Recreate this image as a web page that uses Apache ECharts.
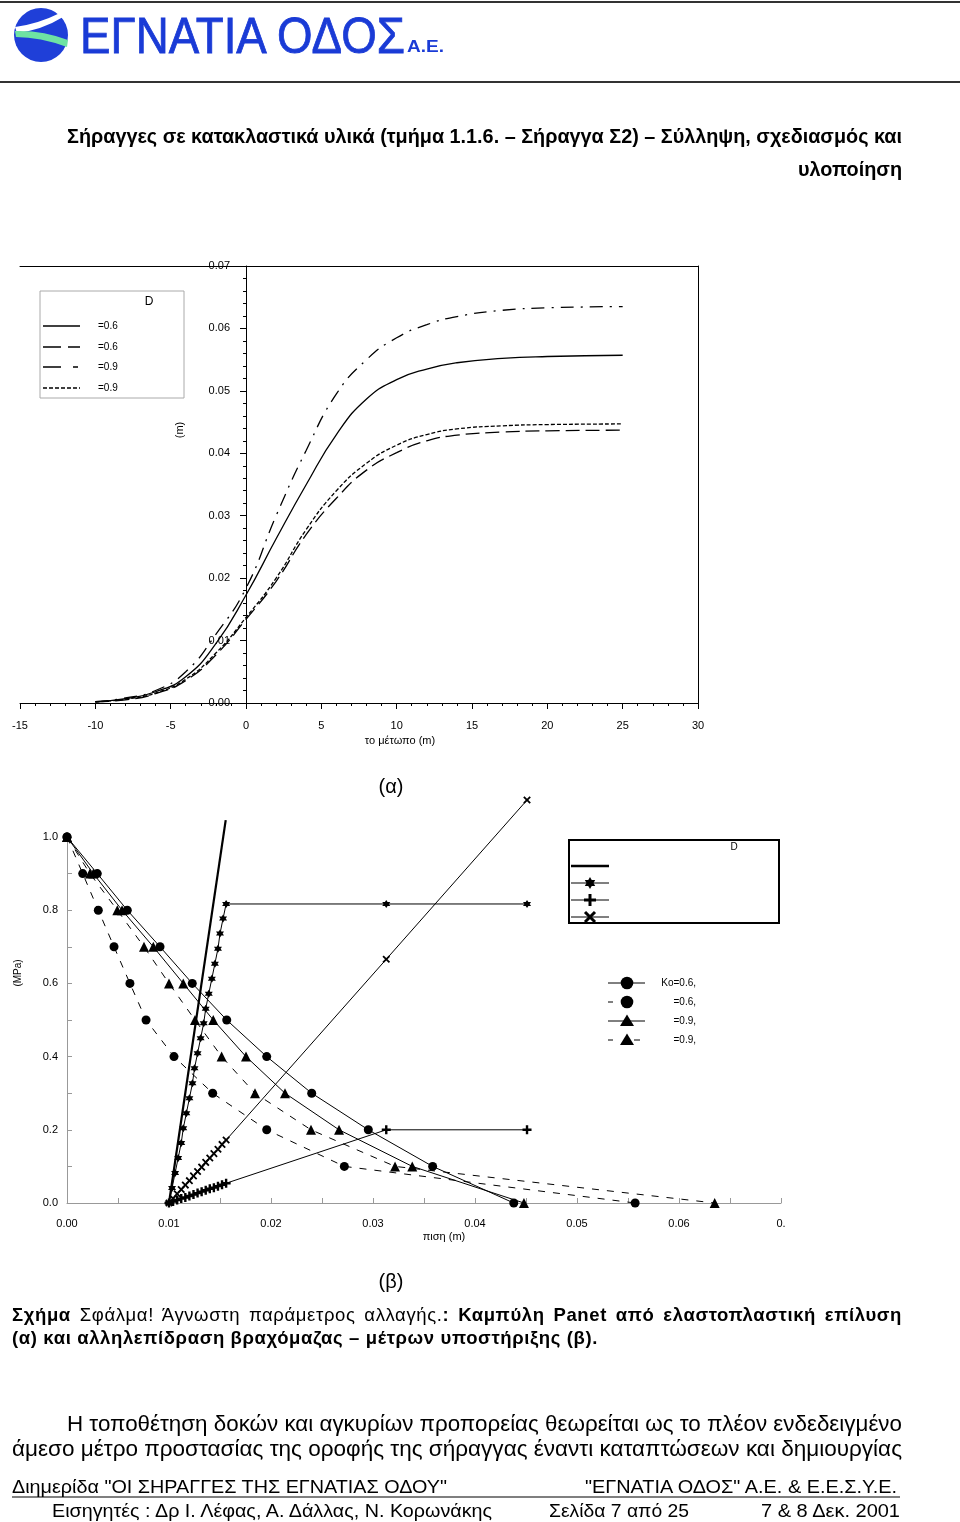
<!DOCTYPE html>
<html><head><meta charset="utf-8">
<script src="https://cdn.jsdelivr.net/npm/echarts@6/dist/echarts.min.js"></script>
<style>
html,body{margin:0;padding:0;background:#fff;}
#c{position:absolute;left:0;top:0;width:960px;height:1522px;}
#doc{position:absolute;left:0;top:0;pointer-events:none;}
</style></head>
<body>
<div id="c"></div>
<svg id="doc" width="960" height="1522" xmlns="http://www.w3.org/2000/svg">
  <line x1="0" y1="2" x2="960" y2="2" stroke="#333" stroke-width="2"/>
  <line x1="0" y1="82" x2="960" y2="82" stroke="#333" stroke-width="2"/>
  <g>
    <circle cx="41" cy="35" r="27" fill="#1f3fd8"/>
    <path d="M15,27 Q38,24 60,13 L63,17 Q42,30 17,33 Z" fill="#ffffff"/>
    <path d="M15,31 Q42,30 68,40 L67,47 Q40,37 16,37 Z" fill="#6ee3a3"/>
    <text x="80" y="53" font-family="Liberation Sans, Arial, sans-serif" font-size="50" fill="#1a3bd6" stroke="#1a3bd6" stroke-width="0.8" textLength="325" lengthAdjust="spacingAndGlyphs">ΕΓΝΑΤΙΑ ΟΔΟΣ</text>
    <text x="407" y="52" font-family="Liberation Sans, Arial, sans-serif" font-size="17" font-weight="bold" fill="#1a3bd6" textLength="37" lengthAdjust="spacingAndGlyphs">Α.Ε.</text>
  </g>
  <g font-family="Liberation Sans, Arial, sans-serif" fill="#000">
    <text x="67" y="143" font-size="20" font-weight="bold" textLength="835" lengthAdjust="spacingAndGlyphs">Σήραγγες σε κατακλαστικά υλικά (τμήμα 1.1.6. – Σήραγγα Σ2) – Σύλληψη, σχεδιασμός και</text>
    <text x="798" y="176" font-size="20" font-weight="bold" textLength="104" lengthAdjust="spacingAndGlyphs">υλοποίηση</text>
    <text x="391" y="793" font-size="20" text-anchor="middle">(α)</text>
    <text x="391" y="1288" font-size="20" text-anchor="middle">(β)</text>
    <text id="cap1" x="12" y="1321" font-size="18.5"><tspan font-weight="bold">Σχήμα</tspan> Σφάλμα! Άγνωστη παράμετρος αλλαγής.<tspan font-weight="bold">: Καμπύλη Panet από ελαστοπλαστική επίλυση</tspan></text>
    <text id="cap2" x="12" y="1344" font-size="18.5" font-weight="bold">(α) και αλληλεπίδραση βραχόμαζας – μέτρων υποστήριξης (β).</text>
    <text x="67" y="1431" font-size="22" textLength="835" lengthAdjust="spacingAndGlyphs">Η τοποθέτηση δοκών και αγκυρίων προπορείας θεωρείται ως το πλέον ενδεδειγμένο</text>
    <text x="12" y="1456" font-size="22" textLength="890" lengthAdjust="spacingAndGlyphs">άμεσο μέτρο προστασίας της οροφής της σήραγγας έναντι καταπτώσεων και δημιουργίας</text>
    <text x="12" y="1493" font-size="19" textLength="435" lengthAdjust="spacingAndGlyphs">Διημερίδα "ΟΙ ΣΗΡΑΓΓΕΣ ΤΗΣ ΕΓΝΑΤΙΑΣ ΟΔΟΥ"</text>
    <text x="585" y="1493" font-size="19" textLength="312" lengthAdjust="spacingAndGlyphs">"ΕΓΝΑΤΙΑ ΟΔΟΣ" Α.Ε. &amp; Ε.Ε.Σ.Υ.Ε.</text>
    <line x1="12" y1="1497" x2="900" y2="1497" stroke="#000" stroke-width="1.2"/>
    <text x="52" y="1517" font-size="19" textLength="440" lengthAdjust="spacingAndGlyphs">Εισηγητές : Δρ Ι. Λέφας, Α. Δάλλας, Ν. Κορωνάκης</text>
    <text x="549" y="1517" font-size="19" textLength="140" lengthAdjust="spacingAndGlyphs">Σελίδα 7 από 25</text>
    <text x="761" y="1517" font-size="19" textLength="139" lengthAdjust="spacingAndGlyphs">7 &amp;  8 Δεκ. 2001</text>
  </g>
</svg>
<script>
// caption: letter spacing taken from line 2 (586 px wide), line 1 justified to 890 px
(function () {
  const t2 = document.getElementById('cap2');
  const n2 = t2.getComputedTextLength();
  const chars2 = t2.textContent.length;
  let ls = (586 - n2) / chars2;
  if (ls < 0) ls = 0;
  t2.setAttribute('letter-spacing', ls.toFixed(2));
  const t1 = document.getElementById('cap1');
  t1.setAttribute('letter-spacing', ls.toFixed(2));
  const n1 = t1.getComputedTextLength();
  const spaces = (t1.textContent.match(/ /g) || []).length;
  if (spaces > 0 && n1 < 890) t1.setAttribute('word-spacing', ((890 - n1) / spaces).toFixed(2));
})();

// ---------- Chart (a) data ----------
const aX        = [-10, -8, -6, -4, -2, 0, 2, 4, 6, 8, 10, 12, 14, 17, 20, 25];
const aSolid    = [0.0002,0.0007,0.0018,0.0042,0.0095,0.0173,0.0263,0.0350,0.0430,0.0487,0.0518,0.0535,0.0545,0.0552,0.0555,0.0557];
const aLongDash = [0.0002,0.0005,0.0015,0.0036,0.0077,0.0134,0.0195,0.0270,0.0328,0.0373,0.0401,0.0420,0.0429,0.0434,0.0436,0.0437];
const aDashDot  = [0.0002,0.0008,0.0020,0.0050,0.0110,0.0184,0.0300,0.0405,0.0495,0.0550,0.0585,0.0606,0.0619,0.0629,0.0633,0.0635];
const aDotted   = [0.0002,0.0006,0.0016,0.0038,0.0080,0.0137,0.0200,0.0278,0.0340,0.0384,0.0413,0.0430,0.0439,0.0444,0.0446,0.0447];
const aLegendLabels = ['=0.6', '=0.6', '=0.9', '=0.9'];

// ---------- Chart (b) data ----------
const bStress      = [1.0, 0.9, 0.8, 0.7, 0.6, 0.5, 0.4, 0.3, 0.2, 0.1, 0.0];
const bCircleSolid = [0, 0.00297, 0.00591, 0.00912, 0.01228, 0.01566, 0.01958, 0.02399, 0.02954, 0.03585, 0.04380];
const bCircleDash  = [0, 0.00154, 0.00307, 0.00461, 0.00617, 0.00775, 0.01049, 0.01428, 0.01958, 0.02719, 0.05570];
const bTriSolid    = [0, 0.00258, 0.00540, 0.00846, 0.01140, 0.01434, 0.01755, 0.02137, 0.02667, 0.03385, 0.04480];
const bTriDash     = [0, 0.00225, 0.00493, 0.00755, 0.01000, 0.01255, 0.01516, 0.01843, 0.02392, 0.03216, 0.06350];

const bBeamX  = [0.0100, 0.01556];
const bBeamY  = [0.000, 1.046];
const bStarX  = [0.0100,0.0103,0.0106,0.0109,0.0112,0.0114,0.0117,0.0120,0.0123,0.0125,0.0128,0.0131,0.0134,0.0136,0.0139,0.0142,0.0145,0.0148,0.0150,0.0153,0.0156,0.0313,0.0451];
const bStarY  = [0.000,0.041,0.082,0.123,0.164,0.204,0.245,0.286,0.327,0.368,0.409,0.450,0.491,0.531,0.572,0.613,0.654,0.695,0.736,0.777,0.817,0.817,0.817];
const bPlusX  = [0.0100,0.0104,0.0108,0.0112,0.0116,0.0120,0.0124,0.0128,0.0132,0.0136,0.0140,0.0144,0.0148,0.0152,0.0156,0.0313,0.0451];
const bPlusY  = [0.000,0.004,0.008,0.012,0.015,0.019,0.023,0.027,0.031,0.035,0.039,0.042,0.046,0.050,0.054,0.200,0.200];
const bCrossX = [0.0100,0.0104,0.0108,0.0112,0.0116,0.0120,0.0124,0.0128,0.0132,0.0136,0.0140,0.0144,0.0148,0.0152,0.0156,0.0313,0.0451];
const bCrossY = [0.000,0.012,0.025,0.037,0.049,0.061,0.074,0.086,0.098,0.111,0.123,0.135,0.147,0.160,0.172,0.666,1.101];
const bLegendLabels = ['Ko=0.6,', '=0.6,', '=0.9,', '=0.9,'];

const FONT = 'Liberation Sans, Arial, sans-serif';
const zip = (xs, ys) => xs.map((x, i) => [x, ys[i]]);

const STAR = 'path://M0,-10L8.66,5L-8.66,5Z M0,10L-8.66,-5L8.66,-5Z';
const PLUS = 'path://M-1.6,-6H1.6V-1.6H6V1.6H1.6V6H-1.6V1.6H-6V-1.6H-1.6Z';
const CROSS = 'path://M-1.2,-6H1.2V-1.2H6V1.2H1.2V6H-1.2V1.2H-6V-1.2H-1.2Z';

const aStyles = [
  {data: aSolid, dash: 'solid'},
  {data: aLongDash, dash: [14, 6]},
  {data: aDashDot, dash: [13, 7, 2, 7]},
  {data: aDotted, dash: [4, 2]}
];

const series = [];
aStyles.forEach((s, i) => {
  series.push({
    type: 'line', xAxisIndex: 0, yAxisIndex: 0, smooth: 0.5,
    symbol: 'none', data: zip(aX, s.data),
    lineStyle: {color: '#000', width: 1.3, type: s.dash}
  });
});

const bGround = [
  {d: bCircleSolid, sym: 'circle', dash: 'solid', size: 9},
  {d: bCircleDash, sym: 'circle', dash: [7, 8], size: 9},
  {d: bTriSolid, sym: 'triangle', dash: 'solid', size: 10},
  {d: bTriDash, sym: 'triangle', dash: [7, 8], size: 10}
];
bGround.forEach(gg => {
  series.push({
    type: 'line', xAxisIndex: 2, yAxisIndex: 2, symbol: gg.sym, symbolSize: gg.size,
    data: zip(gg.d, bStress), clip: false,
    lineStyle: {color: '#000', width: 1, type: gg.dash}, itemStyle: {color: '#000'}
  });
});
series.push({type: 'line', xAxisIndex: 2, yAxisIndex: 2, symbol: 'none', clip: false,
  data: zip(bBeamX, bBeamY), lineStyle: {color: '#000', width: 2.2}});
series.push({type: 'line', xAxisIndex: 2, yAxisIndex: 2, symbol: STAR, symbolSize: 8, clip: false,
  data: zip(bStarX, bStarY), lineStyle: {color: '#000', width: 1}, itemStyle: {color: '#000'}});
series.push({type: 'line', xAxisIndex: 2, yAxisIndex: 2, symbol: PLUS, symbolSize: 9, clip: false,
  data: zip(bPlusX, bPlusY), lineStyle: {color: '#000', width: 1}, itemStyle: {color: '#000'}});
series.push({type: 'line', xAxisIndex: 2, yAxisIndex: 2, symbol: CROSS, symbolRotate: 45, symbolSize: 9, clip: false,
  data: zip(bCrossX, bCrossY), lineStyle: {color: '#000', width: 1}, itemStyle: {color: '#000'}});

// ---------- graphic: legends and axis titles ----------
const g = [];
const txt = (x, y, t, size, align, extra) => Object.assign({
  type: 'text', x: x, y: y,
  style: {text: t, font: size + 'px ' + FONT, fill: '#000', textAlign: align || 'left', textVerticalAlign: 'middle'}
}, extra || {});
// legend (a)
g.push({type: 'rect', shape: {x: 40, y: 291, width: 144, height: 107}, style: {fill: 'none', stroke: '#aaa', lineWidth: 1}});
g.push(txt(149, 302, 'D', 12, 'center'));
const aLegY = [326, 347, 367, 388];
const aLegDash = [null, [18, 7], [18, 12, 5, 20], [4, 2]];
aStyles.forEach((s, i) => {
  g.push({type: 'line', shape: {x1: 43, y1: aLegY[i], x2: 80, y2: aLegY[i]},
    style: {stroke: '#000', lineWidth: 1.3, lineDash: aLegDash[i]}});
  g.push(txt(98, aLegY[i], aLegendLabels[i], 10, 'left'));
});
g.push(txt(180, 430, '(m)', 11, 'center', {rotation: Math.PI / 2}));
g.push(txt(400, 741, 'το μέτωπο (m)', 11, 'center'));
// legend (b) box 1
g.push({type: 'rect', shape: {x: 569, y: 840, width: 210, height: 83}, style: {fill: 'none', stroke: '#000', lineWidth: 2}});
g.push(txt(734, 847, 'D', 10, 'center'));
g.push({type: 'line', shape: {x1: 571, y1: 866, x2: 609, y2: 866}, style: {stroke: '#000', lineWidth: 2.5}});
[883, 900, 917].forEach(y => g.push({type: 'line', shape: {x1: 571, y1: y, x2: 609, y2: y}, style: {stroke: '#000', lineWidth: 1}}));
g.push({type: 'polygon', shape: {points: [[590, 877], [595.2, 886], [584.8, 886]]}, style: {fill: '#000'}});
g.push({type: 'polygon', shape: {points: [[590, 889], [584.8, 880], [595.2, 880]]}, style: {fill: '#000'}});
g.push({type: 'rect', shape: {x: 584, y: 898.5, width: 12, height: 3}, style: {fill: '#000'}});
g.push({type: 'rect', shape: {x: 588.5, y: 894, width: 3, height: 12}, style: {fill: '#000'}});
g.push({type: 'line', shape: {x1: 585, y1: 912, x2: 595, y2: 922}, style: {stroke: '#000', lineWidth: 3}});
g.push({type: 'line', shape: {x1: 585, y1: 922, x2: 595, y2: 912}, style: {stroke: '#000', lineWidth: 3}});
// legend (b) markers
const bLegY = [983, 1002, 1021, 1040];
bLegY.forEach((y, i) => {
  if (i % 2 === 0) {
    g.push({type: 'line', shape: {x1: 608, y1: y, x2: 645, y2: y}, style: {stroke: '#000', lineWidth: 1}});
  } else {
    g.push({type: 'line', shape: {x1: 608, y1: y, x2: 613, y2: y}, style: {stroke: '#000', lineWidth: 1}});
    if (i === 3) g.push({type: 'line', shape: {x1: 634, y1: y, x2: 640, y2: y}, style: {stroke: '#000', lineWidth: 1}});
  }
  if (i < 2) g.push({type: 'circle', shape: {cx: 627, cy: y, r: 6.3}, style: {fill: '#000'}});
  else g.push({type: 'polygon', shape: {points: [[627, y - 6.5], [634, y + 5], [620, y + 5]]}, style: {fill: '#000'}});
  g.push(txt(696, y, bLegendLabels[i], 10, 'right'));
});
g.push(txt(18, 973, '(MPa)', 10, 'center', {rotation: Math.PI / 2}));
g.push(txt(444, 1237, 'πιση (m)', 11, 'center'));

const axisGray = {show: true, onZero: false, lineStyle: {color: '#999', width: 1}};
const A_LEFT = 20, A_WIDTH = 678, A_MIN = -15, A_MAX = 30;

const option = {
  animation: false,
  backgroundColor: 'transparent',
  textStyle: {fontFamily: FONT},
  grid: [
    {left: A_LEFT, top: 266, width: A_WIDTH, height: 437, outerBoundsMode: 'none', containLabel: false},
    {left: 67, top: 837, width: 714, height: 366, outerBoundsMode: 'none', containLabel: false}
  ],
  xAxis: [
    {gridIndex: 0, type: 'value', min: A_MIN, max: A_MAX, interval: 5,
      axisLine: {show: true, onZero: false, lineStyle: {color: '#000', width: 1}},
      axisTick: {show: true, length: 6, lineStyle: {color: '#000'}},
      minorTick: {show: true, splitNumber: 5, length: 3, lineStyle: {color: '#000'}},
      splitLine: {show: false},
      axisLabel: {margin: 17, fontSize: 11, color: '#000', fontFamily: FONT}},
    {gridIndex: 0, type: 'value', position: 'top', min: A_MIN, max: A_MAX,
      axisLine: {show: true, onZero: false, lineStyle: {color: '#000', width: 1}},
      axisTick: {show: false}, axisLabel: {show: false}, splitLine: {show: false}},
    {gridIndex: 1, type: 'value', min: 0, max: 0.07, interval: 0.01,
      axisLine: axisGray, axisTick: {show: true, inside: true, length: 5, lineStyle: {color: '#999'}},
      minorTick: {show: true, splitNumber: 2, length: 5, lineStyle: {color: '#999'}},
      splitLine: {show: false},
      axisLabel: {margin: 15, fontSize: 11, color: '#000', fontFamily: FONT,
        formatter: v => Math.abs(v - 0.07) < 1e-9 ? '0.' : v.toFixed(2)}}
  ],
  yAxis: [
    {gridIndex: 0, type: 'value', position: 'left', min: 0, max: 0.07, interval: 0.01,
      offset: -A_WIDTH * (0 - A_MIN) / (A_MAX - A_MIN),
      axisLine: {show: true, onZero: false, lineStyle: {color: '#000', width: 1}},
      axisTick: {show: true, length: 6, lineStyle: {color: '#000'}},
      minorTick: {show: true, splitNumber: 5, length: 3, lineStyle: {color: '#000'}},
      splitLine: {show: false},
      axisLabel: {margin: 16, fontSize: 11, color: '#000', fontFamily: FONT, formatter: v => v.toFixed(2)}},
    {gridIndex: 0, type: 'value', position: 'right', min: 0, max: 0.07,
      axisLine: {show: true, onZero: false, lineStyle: {color: '#000', width: 1}},
      axisTick: {show: false}, axisLabel: {show: false}, splitLine: {show: false}},
    {gridIndex: 1, type: 'value', min: 0, max: 1.0, interval: 0.2,
      axisLine: axisGray, axisTick: {show: true, inside: true, length: 5, lineStyle: {color: '#999'}},
      minorTick: {show: true, splitNumber: 2, length: 5, lineStyle: {color: '#999'}},
      splitLine: {show: false},
      axisLabel: {margin: 9, fontSize: 11, color: '#000', fontFamily: FONT, formatter: v => v.toFixed(1)}}
  ],
  graphic: g,
  series: series
};
const chart = echarts.init(document.getElementById('c'), null, {renderer: 'canvas'});
chart.setOption(option);
</script>
</body></html>
